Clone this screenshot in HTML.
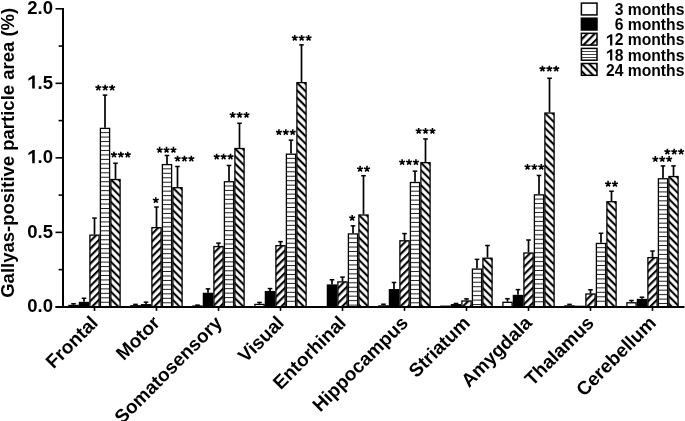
<!DOCTYPE html>
<html><head><meta charset="utf-8"><style>
html,body{margin:0;padding:0;background:#fff;}
svg{display:block;will-change:transform;}
text{font-family:"Liberation Sans",sans-serif;font-weight:bold;fill:#000;}
</style></head><body>
<svg width="685" height="421" viewBox="0 0 685 421">
<defs>
<pattern id="h12" patternUnits="userSpaceOnUse" width="5.29" height="5.29" patternTransform="rotate(45)">
<rect x="0" y="0" width="1.26" height="5.29" fill="#000"/><rect x="4.45" y="0" width="0.84" height="5.29" fill="#000"/></pattern>
<pattern id="h24" patternUnits="userSpaceOnUse" width="5.29" height="5.29" patternTransform="rotate(-45)">
<rect x="0" y="0" width="1.05" height="5.29" fill="#000"/><rect x="4.24" y="0" width="1.05" height="5.29" fill="#000"/></pattern>
</defs>
<rect width="685" height="421" fill="#fff"/>

<line x1="73.50" y1="303.77" x2="73.50" y2="304.81" stroke="#000" stroke-width="1.7"/>
<line x1="71.20" y1="303.77" x2="75.80" y2="303.77" stroke="#000" stroke-width="1.5"/>
<rect x="68.90" y="305.46" width="9.20" height="1.44" fill="#fff" stroke="#000" stroke-width="1.3"/>
<line x1="84.00" y1="298.26" x2="84.00" y2="301.83" stroke="#000" stroke-width="1.7"/>
<line x1="81.70" y1="298.26" x2="86.30" y2="298.26" stroke="#000" stroke-width="1.5"/>
<rect x="79.40" y="302.48" width="9.20" height="4.42" fill="#000" stroke="#000" stroke-width="1.3"/>
<line x1="94.50" y1="218.07" x2="94.50" y2="234.46" stroke="#000" stroke-width="1.7"/>
<line x1="92.20" y1="218.07" x2="96.80" y2="218.07" stroke="#000" stroke-width="1.5"/>
<g transform="translate(89.25,234.46)"><rect x="0.65" y="0.65" width="9.20" height="71.79" fill="url(#h12)" stroke="#000" stroke-width="1.3"/></g>
<line x1="105.00" y1="95.10" x2="105.00" y2="127.74" stroke="#000" stroke-width="1.7"/>
<line x1="102.70" y1="95.10" x2="107.30" y2="95.10" stroke="#000" stroke-width="1.5"/>
<rect x="100.40" y="128.39" width="9.20" height="178.51" fill="#fff"/>
<line x1="100.40" y1="132.61" x2="109.60" y2="132.61" stroke="#222" stroke-width="1"/>
<line x1="100.40" y1="137.07" x2="109.60" y2="137.07" stroke="#222" stroke-width="1"/>
<line x1="100.40" y1="141.54" x2="109.60" y2="141.54" stroke="#222" stroke-width="1"/>
<line x1="100.40" y1="146.00" x2="109.60" y2="146.00" stroke="#222" stroke-width="1"/>
<line x1="100.40" y1="150.47" x2="109.60" y2="150.47" stroke="#222" stroke-width="1"/>
<line x1="100.40" y1="154.93" x2="109.60" y2="154.93" stroke="#222" stroke-width="1"/>
<line x1="100.40" y1="159.40" x2="109.60" y2="159.40" stroke="#222" stroke-width="1"/>
<line x1="100.40" y1="163.86" x2="109.60" y2="163.86" stroke="#222" stroke-width="1"/>
<line x1="100.40" y1="168.33" x2="109.60" y2="168.33" stroke="#222" stroke-width="1"/>
<line x1="100.40" y1="172.79" x2="109.60" y2="172.79" stroke="#222" stroke-width="1"/>
<line x1="100.40" y1="177.26" x2="109.60" y2="177.26" stroke="#222" stroke-width="1"/>
<line x1="100.40" y1="181.72" x2="109.60" y2="181.72" stroke="#222" stroke-width="1"/>
<line x1="100.40" y1="186.19" x2="109.60" y2="186.19" stroke="#222" stroke-width="1"/>
<line x1="100.40" y1="190.65" x2="109.60" y2="190.65" stroke="#222" stroke-width="1"/>
<line x1="100.40" y1="195.12" x2="109.60" y2="195.12" stroke="#222" stroke-width="1"/>
<line x1="100.40" y1="199.58" x2="109.60" y2="199.58" stroke="#222" stroke-width="1"/>
<line x1="100.40" y1="204.05" x2="109.60" y2="204.05" stroke="#222" stroke-width="1"/>
<line x1="100.40" y1="208.51" x2="109.60" y2="208.51" stroke="#222" stroke-width="1"/>
<line x1="100.40" y1="212.98" x2="109.60" y2="212.98" stroke="#222" stroke-width="1"/>
<line x1="100.40" y1="217.44" x2="109.60" y2="217.44" stroke="#222" stroke-width="1"/>
<line x1="100.40" y1="221.91" x2="109.60" y2="221.91" stroke="#222" stroke-width="1"/>
<line x1="100.40" y1="226.37" x2="109.60" y2="226.37" stroke="#222" stroke-width="1"/>
<line x1="100.40" y1="230.84" x2="109.60" y2="230.84" stroke="#222" stroke-width="1"/>
<line x1="100.40" y1="235.30" x2="109.60" y2="235.30" stroke="#222" stroke-width="1"/>
<line x1="100.40" y1="239.77" x2="109.60" y2="239.77" stroke="#222" stroke-width="1"/>
<line x1="100.40" y1="244.23" x2="109.60" y2="244.23" stroke="#222" stroke-width="1"/>
<line x1="100.40" y1="248.70" x2="109.60" y2="248.70" stroke="#222" stroke-width="1"/>
<line x1="100.40" y1="253.16" x2="109.60" y2="253.16" stroke="#222" stroke-width="1"/>
<line x1="100.40" y1="257.63" x2="109.60" y2="257.63" stroke="#222" stroke-width="1"/>
<line x1="100.40" y1="262.09" x2="109.60" y2="262.09" stroke="#222" stroke-width="1"/>
<line x1="100.40" y1="266.56" x2="109.60" y2="266.56" stroke="#222" stroke-width="1"/>
<line x1="100.40" y1="271.02" x2="109.60" y2="271.02" stroke="#222" stroke-width="1"/>
<line x1="100.40" y1="275.49" x2="109.60" y2="275.49" stroke="#222" stroke-width="1"/>
<line x1="100.40" y1="279.95" x2="109.60" y2="279.95" stroke="#222" stroke-width="1"/>
<line x1="100.40" y1="284.42" x2="109.60" y2="284.42" stroke="#222" stroke-width="1"/>
<line x1="100.40" y1="288.88" x2="109.60" y2="288.88" stroke="#222" stroke-width="1"/>
<line x1="100.40" y1="293.35" x2="109.60" y2="293.35" stroke="#222" stroke-width="1"/>
<line x1="100.40" y1="297.81" x2="109.60" y2="297.81" stroke="#222" stroke-width="1"/>
<line x1="100.40" y1="302.28" x2="109.60" y2="302.28" stroke="#222" stroke-width="1"/>
<rect x="100.40" y="128.39" width="9.20" height="178.51" fill="none" stroke="#000" stroke-width="1.3"/>
<line x1="115.50" y1="163.22" x2="115.50" y2="178.87" stroke="#000" stroke-width="1.7"/>
<line x1="113.20" y1="163.22" x2="117.80" y2="163.22" stroke="#000" stroke-width="1.5"/>
<g transform="translate(110.25,178.87)"><rect x="0.65" y="0.65" width="9.20" height="127.38" fill="url(#h24)" stroke="#000" stroke-width="1.3"/></g>
<line x1="94.50" y1="306.9" x2="94.50" y2="310.9" stroke="#000" stroke-width="1.6"/>
<text transform="translate(99.10,324) rotate(-45)" font-size="19" text-anchor="end">Frontal</text>
<line x1="135.50" y1="304.37" x2="135.50" y2="305.11" stroke="#000" stroke-width="1.7"/>
<line x1="133.20" y1="304.37" x2="137.80" y2="304.37" stroke="#000" stroke-width="1.5"/>
<rect x="130.90" y="305.76" width="9.20" height="1.14" fill="#fff" stroke="#000" stroke-width="1.3"/>
<line x1="146.00" y1="302.13" x2="146.00" y2="304.07" stroke="#000" stroke-width="1.7"/>
<line x1="143.70" y1="302.13" x2="148.30" y2="302.13" stroke="#000" stroke-width="1.5"/>
<rect x="141.40" y="304.72" width="9.20" height="2.18" fill="#000" stroke="#000" stroke-width="1.3"/>
<line x1="156.50" y1="207.04" x2="156.50" y2="227.01" stroke="#000" stroke-width="1.7"/>
<line x1="154.20" y1="207.04" x2="158.80" y2="207.04" stroke="#000" stroke-width="1.5"/>
<g transform="translate(151.25,227.01)"><rect x="0.65" y="0.65" width="9.20" height="79.24" fill="url(#h12)" stroke="#000" stroke-width="1.3"/></g>
<line x1="167.00" y1="155.47" x2="167.00" y2="163.96" stroke="#000" stroke-width="1.7"/>
<line x1="164.70" y1="155.47" x2="169.30" y2="155.47" stroke="#000" stroke-width="1.5"/>
<rect x="162.40" y="164.61" width="9.20" height="142.29" fill="#fff"/>
<line x1="162.40" y1="168.83" x2="171.60" y2="168.83" stroke="#222" stroke-width="1"/>
<line x1="162.40" y1="173.29" x2="171.60" y2="173.29" stroke="#222" stroke-width="1"/>
<line x1="162.40" y1="177.76" x2="171.60" y2="177.76" stroke="#222" stroke-width="1"/>
<line x1="162.40" y1="182.22" x2="171.60" y2="182.22" stroke="#222" stroke-width="1"/>
<line x1="162.40" y1="186.69" x2="171.60" y2="186.69" stroke="#222" stroke-width="1"/>
<line x1="162.40" y1="191.15" x2="171.60" y2="191.15" stroke="#222" stroke-width="1"/>
<line x1="162.40" y1="195.62" x2="171.60" y2="195.62" stroke="#222" stroke-width="1"/>
<line x1="162.40" y1="200.08" x2="171.60" y2="200.08" stroke="#222" stroke-width="1"/>
<line x1="162.40" y1="204.55" x2="171.60" y2="204.55" stroke="#222" stroke-width="1"/>
<line x1="162.40" y1="209.01" x2="171.60" y2="209.01" stroke="#222" stroke-width="1"/>
<line x1="162.40" y1="213.48" x2="171.60" y2="213.48" stroke="#222" stroke-width="1"/>
<line x1="162.40" y1="217.94" x2="171.60" y2="217.94" stroke="#222" stroke-width="1"/>
<line x1="162.40" y1="222.41" x2="171.60" y2="222.41" stroke="#222" stroke-width="1"/>
<line x1="162.40" y1="226.87" x2="171.60" y2="226.87" stroke="#222" stroke-width="1"/>
<line x1="162.40" y1="231.34" x2="171.60" y2="231.34" stroke="#222" stroke-width="1"/>
<line x1="162.40" y1="235.80" x2="171.60" y2="235.80" stroke="#222" stroke-width="1"/>
<line x1="162.40" y1="240.27" x2="171.60" y2="240.27" stroke="#222" stroke-width="1"/>
<line x1="162.40" y1="244.73" x2="171.60" y2="244.73" stroke="#222" stroke-width="1"/>
<line x1="162.40" y1="249.20" x2="171.60" y2="249.20" stroke="#222" stroke-width="1"/>
<line x1="162.40" y1="253.66" x2="171.60" y2="253.66" stroke="#222" stroke-width="1"/>
<line x1="162.40" y1="258.13" x2="171.60" y2="258.13" stroke="#222" stroke-width="1"/>
<line x1="162.40" y1="262.59" x2="171.60" y2="262.59" stroke="#222" stroke-width="1"/>
<line x1="162.40" y1="267.06" x2="171.60" y2="267.06" stroke="#222" stroke-width="1"/>
<line x1="162.40" y1="271.52" x2="171.60" y2="271.52" stroke="#222" stroke-width="1"/>
<line x1="162.40" y1="275.99" x2="171.60" y2="275.99" stroke="#222" stroke-width="1"/>
<line x1="162.40" y1="280.45" x2="171.60" y2="280.45" stroke="#222" stroke-width="1"/>
<line x1="162.40" y1="284.92" x2="171.60" y2="284.92" stroke="#222" stroke-width="1"/>
<line x1="162.40" y1="289.38" x2="171.60" y2="289.38" stroke="#222" stroke-width="1"/>
<line x1="162.40" y1="293.85" x2="171.60" y2="293.85" stroke="#222" stroke-width="1"/>
<line x1="162.40" y1="298.31" x2="171.60" y2="298.31" stroke="#222" stroke-width="1"/>
<line x1="162.40" y1="302.78" x2="171.60" y2="302.78" stroke="#222" stroke-width="1"/>
<rect x="162.40" y="164.61" width="9.20" height="142.29" fill="none" stroke="#000" stroke-width="1.3"/>
<line x1="177.50" y1="166.49" x2="177.50" y2="187.06" stroke="#000" stroke-width="1.7"/>
<line x1="175.20" y1="166.49" x2="179.80" y2="166.49" stroke="#000" stroke-width="1.5"/>
<g transform="translate(172.25,187.06)"><rect x="0.65" y="0.65" width="9.20" height="119.19" fill="url(#h24)" stroke="#000" stroke-width="1.3"/></g>
<line x1="156.50" y1="306.9" x2="156.50" y2="310.9" stroke="#000" stroke-width="1.6"/>
<text transform="translate(161.10,324) rotate(-45)" font-size="19" text-anchor="end">Motor</text>
<line x1="197.50" y1="305.11" x2="197.50" y2="305.41" stroke="#000" stroke-width="1.7"/>
<line x1="195.20" y1="305.11" x2="199.80" y2="305.11" stroke="#000" stroke-width="1.5"/>
<rect x="192.90" y="306.06" width="9.20" height="0.84" fill="#fff" stroke="#000" stroke-width="1.3"/>
<line x1="208.00" y1="288.86" x2="208.00" y2="292.74" stroke="#000" stroke-width="1.7"/>
<line x1="205.70" y1="288.86" x2="210.30" y2="288.86" stroke="#000" stroke-width="1.5"/>
<rect x="203.40" y="293.39" width="9.20" height="13.51" fill="#000" stroke="#000" stroke-width="1.3"/>
<line x1="218.50" y1="243.11" x2="218.50" y2="245.94" stroke="#000" stroke-width="1.7"/>
<line x1="216.20" y1="243.11" x2="220.80" y2="243.11" stroke="#000" stroke-width="1.5"/>
<g transform="translate(213.25,245.94)"><rect x="0.65" y="0.65" width="9.20" height="60.31" fill="url(#h12)" stroke="#000" stroke-width="1.3"/></g>
<line x1="229.00" y1="165.45" x2="229.00" y2="181.10" stroke="#000" stroke-width="1.7"/>
<line x1="226.70" y1="165.45" x2="231.30" y2="165.45" stroke="#000" stroke-width="1.5"/>
<rect x="224.40" y="181.75" width="9.20" height="125.15" fill="#fff"/>
<line x1="224.40" y1="185.97" x2="233.60" y2="185.97" stroke="#222" stroke-width="1"/>
<line x1="224.40" y1="190.43" x2="233.60" y2="190.43" stroke="#222" stroke-width="1"/>
<line x1="224.40" y1="194.90" x2="233.60" y2="194.90" stroke="#222" stroke-width="1"/>
<line x1="224.40" y1="199.36" x2="233.60" y2="199.36" stroke="#222" stroke-width="1"/>
<line x1="224.40" y1="203.83" x2="233.60" y2="203.83" stroke="#222" stroke-width="1"/>
<line x1="224.40" y1="208.29" x2="233.60" y2="208.29" stroke="#222" stroke-width="1"/>
<line x1="224.40" y1="212.76" x2="233.60" y2="212.76" stroke="#222" stroke-width="1"/>
<line x1="224.40" y1="217.22" x2="233.60" y2="217.22" stroke="#222" stroke-width="1"/>
<line x1="224.40" y1="221.69" x2="233.60" y2="221.69" stroke="#222" stroke-width="1"/>
<line x1="224.40" y1="226.15" x2="233.60" y2="226.15" stroke="#222" stroke-width="1"/>
<line x1="224.40" y1="230.62" x2="233.60" y2="230.62" stroke="#222" stroke-width="1"/>
<line x1="224.40" y1="235.08" x2="233.60" y2="235.08" stroke="#222" stroke-width="1"/>
<line x1="224.40" y1="239.55" x2="233.60" y2="239.55" stroke="#222" stroke-width="1"/>
<line x1="224.40" y1="244.01" x2="233.60" y2="244.01" stroke="#222" stroke-width="1"/>
<line x1="224.40" y1="248.48" x2="233.60" y2="248.48" stroke="#222" stroke-width="1"/>
<line x1="224.40" y1="252.94" x2="233.60" y2="252.94" stroke="#222" stroke-width="1"/>
<line x1="224.40" y1="257.41" x2="233.60" y2="257.41" stroke="#222" stroke-width="1"/>
<line x1="224.40" y1="261.87" x2="233.60" y2="261.87" stroke="#222" stroke-width="1"/>
<line x1="224.40" y1="266.34" x2="233.60" y2="266.34" stroke="#222" stroke-width="1"/>
<line x1="224.40" y1="270.80" x2="233.60" y2="270.80" stroke="#222" stroke-width="1"/>
<line x1="224.40" y1="275.27" x2="233.60" y2="275.27" stroke="#222" stroke-width="1"/>
<line x1="224.40" y1="279.73" x2="233.60" y2="279.73" stroke="#222" stroke-width="1"/>
<line x1="224.40" y1="284.20" x2="233.60" y2="284.20" stroke="#222" stroke-width="1"/>
<line x1="224.40" y1="288.66" x2="233.60" y2="288.66" stroke="#222" stroke-width="1"/>
<line x1="224.40" y1="293.13" x2="233.60" y2="293.13" stroke="#222" stroke-width="1"/>
<line x1="224.40" y1="297.59" x2="233.60" y2="297.59" stroke="#222" stroke-width="1"/>
<line x1="224.40" y1="302.06" x2="233.60" y2="302.06" stroke="#222" stroke-width="1"/>
<rect x="224.40" y="181.75" width="9.20" height="125.15" fill="none" stroke="#000" stroke-width="1.3"/>
<line x1="239.50" y1="123.27" x2="239.50" y2="147.86" stroke="#000" stroke-width="1.7"/>
<line x1="237.20" y1="123.27" x2="241.80" y2="123.27" stroke="#000" stroke-width="1.5"/>
<g transform="translate(234.25,147.86)"><rect x="0.65" y="0.65" width="9.20" height="158.39" fill="url(#h24)" stroke="#000" stroke-width="1.3"/></g>
<line x1="218.50" y1="306.9" x2="218.50" y2="310.9" stroke="#000" stroke-width="1.6"/>
<text transform="translate(223.10,324) rotate(-45)" font-size="19" text-anchor="end">Somatosensory</text>
<line x1="259.50" y1="302.43" x2="259.50" y2="303.77" stroke="#000" stroke-width="1.7"/>
<line x1="257.20" y1="302.43" x2="261.80" y2="302.43" stroke="#000" stroke-width="1.5"/>
<rect x="254.90" y="304.42" width="9.20" height="2.48" fill="#fff" stroke="#000" stroke-width="1.3"/>
<line x1="270.00" y1="288.57" x2="270.00" y2="290.95" stroke="#000" stroke-width="1.7"/>
<line x1="267.70" y1="288.57" x2="272.30" y2="288.57" stroke="#000" stroke-width="1.5"/>
<rect x="265.40" y="291.60" width="9.20" height="15.30" fill="#000" stroke="#000" stroke-width="1.3"/>
<line x1="280.50" y1="241.62" x2="280.50" y2="245.04" stroke="#000" stroke-width="1.7"/>
<line x1="278.20" y1="241.62" x2="282.80" y2="241.62" stroke="#000" stroke-width="1.5"/>
<g transform="translate(275.25,245.04)"><rect x="0.65" y="0.65" width="9.20" height="61.21" fill="url(#h12)" stroke="#000" stroke-width="1.3"/></g>
<line x1="291.00" y1="140.11" x2="291.00" y2="153.53" stroke="#000" stroke-width="1.7"/>
<line x1="288.70" y1="140.11" x2="293.30" y2="140.11" stroke="#000" stroke-width="1.5"/>
<rect x="286.40" y="154.18" width="9.20" height="152.72" fill="#fff"/>
<line x1="286.40" y1="158.39" x2="295.60" y2="158.39" stroke="#222" stroke-width="1"/>
<line x1="286.40" y1="162.86" x2="295.60" y2="162.86" stroke="#222" stroke-width="1"/>
<line x1="286.40" y1="167.32" x2="295.60" y2="167.32" stroke="#222" stroke-width="1"/>
<line x1="286.40" y1="171.79" x2="295.60" y2="171.79" stroke="#222" stroke-width="1"/>
<line x1="286.40" y1="176.25" x2="295.60" y2="176.25" stroke="#222" stroke-width="1"/>
<line x1="286.40" y1="180.72" x2="295.60" y2="180.72" stroke="#222" stroke-width="1"/>
<line x1="286.40" y1="185.18" x2="295.60" y2="185.18" stroke="#222" stroke-width="1"/>
<line x1="286.40" y1="189.65" x2="295.60" y2="189.65" stroke="#222" stroke-width="1"/>
<line x1="286.40" y1="194.11" x2="295.60" y2="194.11" stroke="#222" stroke-width="1"/>
<line x1="286.40" y1="198.58" x2="295.60" y2="198.58" stroke="#222" stroke-width="1"/>
<line x1="286.40" y1="203.04" x2="295.60" y2="203.04" stroke="#222" stroke-width="1"/>
<line x1="286.40" y1="207.51" x2="295.60" y2="207.51" stroke="#222" stroke-width="1"/>
<line x1="286.40" y1="211.97" x2="295.60" y2="211.97" stroke="#222" stroke-width="1"/>
<line x1="286.40" y1="216.44" x2="295.60" y2="216.44" stroke="#222" stroke-width="1"/>
<line x1="286.40" y1="220.90" x2="295.60" y2="220.90" stroke="#222" stroke-width="1"/>
<line x1="286.40" y1="225.37" x2="295.60" y2="225.37" stroke="#222" stroke-width="1"/>
<line x1="286.40" y1="229.83" x2="295.60" y2="229.83" stroke="#222" stroke-width="1"/>
<line x1="286.40" y1="234.30" x2="295.60" y2="234.30" stroke="#222" stroke-width="1"/>
<line x1="286.40" y1="238.76" x2="295.60" y2="238.76" stroke="#222" stroke-width="1"/>
<line x1="286.40" y1="243.23" x2="295.60" y2="243.23" stroke="#222" stroke-width="1"/>
<line x1="286.40" y1="247.69" x2="295.60" y2="247.69" stroke="#222" stroke-width="1"/>
<line x1="286.40" y1="252.16" x2="295.60" y2="252.16" stroke="#222" stroke-width="1"/>
<line x1="286.40" y1="256.62" x2="295.60" y2="256.62" stroke="#222" stroke-width="1"/>
<line x1="286.40" y1="261.09" x2="295.60" y2="261.09" stroke="#222" stroke-width="1"/>
<line x1="286.40" y1="265.55" x2="295.60" y2="265.55" stroke="#222" stroke-width="1"/>
<line x1="286.40" y1="270.02" x2="295.60" y2="270.02" stroke="#222" stroke-width="1"/>
<line x1="286.40" y1="274.48" x2="295.60" y2="274.48" stroke="#222" stroke-width="1"/>
<line x1="286.40" y1="278.95" x2="295.60" y2="278.95" stroke="#222" stroke-width="1"/>
<line x1="286.40" y1="283.41" x2="295.60" y2="283.41" stroke="#222" stroke-width="1"/>
<line x1="286.40" y1="287.88" x2="295.60" y2="287.88" stroke="#222" stroke-width="1"/>
<line x1="286.40" y1="292.34" x2="295.60" y2="292.34" stroke="#222" stroke-width="1"/>
<line x1="286.40" y1="296.81" x2="295.60" y2="296.81" stroke="#222" stroke-width="1"/>
<line x1="286.40" y1="301.27" x2="295.60" y2="301.27" stroke="#222" stroke-width="1"/>
<rect x="286.40" y="154.18" width="9.20" height="152.72" fill="none" stroke="#000" stroke-width="1.3"/>
<line x1="301.50" y1="44.87" x2="301.50" y2="81.98" stroke="#000" stroke-width="1.7"/>
<line x1="299.20" y1="44.87" x2="303.80" y2="44.87" stroke="#000" stroke-width="1.5"/>
<g transform="translate(296.25,81.98)"><rect x="0.65" y="0.65" width="9.20" height="224.27" fill="url(#h24)" stroke="#000" stroke-width="1.3"/></g>
<line x1="280.50" y1="306.9" x2="280.50" y2="310.9" stroke="#000" stroke-width="1.6"/>
<text transform="translate(285.10,324) rotate(-45)" font-size="19" text-anchor="end">Visual</text>
<rect x="316.90" y="306.80" width="9.20" height="0.10" fill="#fff" stroke="#000" stroke-width="1.3"/>
<line x1="332.00" y1="279.77" x2="332.00" y2="284.39" stroke="#000" stroke-width="1.7"/>
<line x1="329.70" y1="279.77" x2="334.30" y2="279.77" stroke="#000" stroke-width="1.5"/>
<rect x="327.40" y="285.04" width="9.20" height="21.86" fill="#000" stroke="#000" stroke-width="1.3"/>
<line x1="342.50" y1="277.09" x2="342.50" y2="281.26" stroke="#000" stroke-width="1.7"/>
<line x1="340.20" y1="277.09" x2="344.80" y2="277.09" stroke="#000" stroke-width="1.5"/>
<g transform="translate(337.25,281.26)"><rect x="0.65" y="0.65" width="9.20" height="24.99" fill="url(#h12)" stroke="#000" stroke-width="1.3"/></g>
<line x1="353.00" y1="225.82" x2="353.00" y2="233.27" stroke="#000" stroke-width="1.7"/>
<line x1="350.70" y1="225.82" x2="355.30" y2="225.82" stroke="#000" stroke-width="1.5"/>
<rect x="348.40" y="233.92" width="9.20" height="72.98" fill="#fff"/>
<line x1="348.40" y1="238.13" x2="357.60" y2="238.13" stroke="#222" stroke-width="1"/>
<line x1="348.40" y1="242.60" x2="357.60" y2="242.60" stroke="#222" stroke-width="1"/>
<line x1="348.40" y1="247.06" x2="357.60" y2="247.06" stroke="#222" stroke-width="1"/>
<line x1="348.40" y1="251.53" x2="357.60" y2="251.53" stroke="#222" stroke-width="1"/>
<line x1="348.40" y1="255.99" x2="357.60" y2="255.99" stroke="#222" stroke-width="1"/>
<line x1="348.40" y1="260.46" x2="357.60" y2="260.46" stroke="#222" stroke-width="1"/>
<line x1="348.40" y1="264.92" x2="357.60" y2="264.92" stroke="#222" stroke-width="1"/>
<line x1="348.40" y1="269.39" x2="357.60" y2="269.39" stroke="#222" stroke-width="1"/>
<line x1="348.40" y1="273.85" x2="357.60" y2="273.85" stroke="#222" stroke-width="1"/>
<line x1="348.40" y1="278.32" x2="357.60" y2="278.32" stroke="#222" stroke-width="1"/>
<line x1="348.40" y1="282.78" x2="357.60" y2="282.78" stroke="#222" stroke-width="1"/>
<line x1="348.40" y1="287.25" x2="357.60" y2="287.25" stroke="#222" stroke-width="1"/>
<line x1="348.40" y1="291.71" x2="357.60" y2="291.71" stroke="#222" stroke-width="1"/>
<line x1="348.40" y1="296.18" x2="357.60" y2="296.18" stroke="#222" stroke-width="1"/>
<line x1="348.40" y1="300.64" x2="357.60" y2="300.64" stroke="#222" stroke-width="1"/>
<line x1="348.40" y1="305.11" x2="357.60" y2="305.11" stroke="#222" stroke-width="1"/>
<rect x="348.40" y="233.92" width="9.20" height="72.98" fill="none" stroke="#000" stroke-width="1.3"/>
<line x1="363.50" y1="175.74" x2="363.50" y2="214.34" stroke="#000" stroke-width="1.7"/>
<line x1="361.20" y1="175.74" x2="365.80" y2="175.74" stroke="#000" stroke-width="1.5"/>
<g transform="translate(358.25,214.34)"><rect x="0.65" y="0.65" width="9.20" height="91.91" fill="url(#h24)" stroke="#000" stroke-width="1.3"/></g>
<line x1="342.50" y1="306.9" x2="342.50" y2="310.9" stroke="#000" stroke-width="1.6"/>
<text transform="translate(347.10,324) rotate(-45)" font-size="19" text-anchor="end">Entorhinal</text>
<line x1="383.50" y1="304.22" x2="383.50" y2="305.26" stroke="#000" stroke-width="1.7"/>
<line x1="381.20" y1="304.22" x2="385.80" y2="304.22" stroke="#000" stroke-width="1.5"/>
<rect x="378.90" y="305.91" width="9.20" height="0.99" fill="#fff" stroke="#000" stroke-width="1.3"/>
<line x1="394.00" y1="282.46" x2="394.00" y2="289.01" stroke="#000" stroke-width="1.7"/>
<line x1="391.70" y1="282.46" x2="396.30" y2="282.46" stroke="#000" stroke-width="1.5"/>
<rect x="389.40" y="289.66" width="9.20" height="17.24" fill="#000" stroke="#000" stroke-width="1.3"/>
<line x1="404.50" y1="233.57" x2="404.50" y2="240.13" stroke="#000" stroke-width="1.7"/>
<line x1="402.20" y1="233.57" x2="406.80" y2="233.57" stroke="#000" stroke-width="1.5"/>
<g transform="translate(399.25,240.13)"><rect x="0.65" y="0.65" width="9.20" height="66.12" fill="url(#h12)" stroke="#000" stroke-width="1.3"/></g>
<line x1="415.00" y1="171.12" x2="415.00" y2="181.85" stroke="#000" stroke-width="1.7"/>
<line x1="412.70" y1="171.12" x2="417.30" y2="171.12" stroke="#000" stroke-width="1.5"/>
<rect x="410.40" y="182.50" width="9.20" height="124.40" fill="#fff"/>
<line x1="410.40" y1="186.71" x2="419.60" y2="186.71" stroke="#222" stroke-width="1"/>
<line x1="410.40" y1="191.18" x2="419.60" y2="191.18" stroke="#222" stroke-width="1"/>
<line x1="410.40" y1="195.64" x2="419.60" y2="195.64" stroke="#222" stroke-width="1"/>
<line x1="410.40" y1="200.11" x2="419.60" y2="200.11" stroke="#222" stroke-width="1"/>
<line x1="410.40" y1="204.57" x2="419.60" y2="204.57" stroke="#222" stroke-width="1"/>
<line x1="410.40" y1="209.04" x2="419.60" y2="209.04" stroke="#222" stroke-width="1"/>
<line x1="410.40" y1="213.50" x2="419.60" y2="213.50" stroke="#222" stroke-width="1"/>
<line x1="410.40" y1="217.97" x2="419.60" y2="217.97" stroke="#222" stroke-width="1"/>
<line x1="410.40" y1="222.43" x2="419.60" y2="222.43" stroke="#222" stroke-width="1"/>
<line x1="410.40" y1="226.90" x2="419.60" y2="226.90" stroke="#222" stroke-width="1"/>
<line x1="410.40" y1="231.36" x2="419.60" y2="231.36" stroke="#222" stroke-width="1"/>
<line x1="410.40" y1="235.83" x2="419.60" y2="235.83" stroke="#222" stroke-width="1"/>
<line x1="410.40" y1="240.29" x2="419.60" y2="240.29" stroke="#222" stroke-width="1"/>
<line x1="410.40" y1="244.76" x2="419.60" y2="244.76" stroke="#222" stroke-width="1"/>
<line x1="410.40" y1="249.22" x2="419.60" y2="249.22" stroke="#222" stroke-width="1"/>
<line x1="410.40" y1="253.69" x2="419.60" y2="253.69" stroke="#222" stroke-width="1"/>
<line x1="410.40" y1="258.15" x2="419.60" y2="258.15" stroke="#222" stroke-width="1"/>
<line x1="410.40" y1="262.62" x2="419.60" y2="262.62" stroke="#222" stroke-width="1"/>
<line x1="410.40" y1="267.08" x2="419.60" y2="267.08" stroke="#222" stroke-width="1"/>
<line x1="410.40" y1="271.55" x2="419.60" y2="271.55" stroke="#222" stroke-width="1"/>
<line x1="410.40" y1="276.01" x2="419.60" y2="276.01" stroke="#222" stroke-width="1"/>
<line x1="410.40" y1="280.48" x2="419.60" y2="280.48" stroke="#222" stroke-width="1"/>
<line x1="410.40" y1="284.94" x2="419.60" y2="284.94" stroke="#222" stroke-width="1"/>
<line x1="410.40" y1="289.41" x2="419.60" y2="289.41" stroke="#222" stroke-width="1"/>
<line x1="410.40" y1="293.87" x2="419.60" y2="293.87" stroke="#222" stroke-width="1"/>
<line x1="410.40" y1="298.34" x2="419.60" y2="298.34" stroke="#222" stroke-width="1"/>
<line x1="410.40" y1="302.80" x2="419.60" y2="302.80" stroke="#222" stroke-width="1"/>
<rect x="410.40" y="182.50" width="9.20" height="124.40" fill="none" stroke="#000" stroke-width="1.3"/>
<line x1="425.50" y1="138.92" x2="425.50" y2="162.02" stroke="#000" stroke-width="1.7"/>
<line x1="423.20" y1="138.92" x2="427.80" y2="138.92" stroke="#000" stroke-width="1.5"/>
<g transform="translate(420.25,162.02)"><rect x="0.65" y="0.65" width="9.20" height="144.23" fill="url(#h24)" stroke="#000" stroke-width="1.3"/></g>
<line x1="404.50" y1="306.9" x2="404.50" y2="310.9" stroke="#000" stroke-width="1.6"/>
<text transform="translate(409.10,324) rotate(-45)" font-size="19" text-anchor="end">Hippocampus</text>
<rect x="440.90" y="306.21" width="9.20" height="0.69" fill="#fff" stroke="#000" stroke-width="1.3"/>
<line x1="456.00" y1="303.47" x2="456.00" y2="304.07" stroke="#000" stroke-width="1.7"/>
<line x1="453.70" y1="303.47" x2="458.30" y2="303.47" stroke="#000" stroke-width="1.5"/>
<rect x="451.40" y="304.72" width="9.20" height="2.18" fill="#000" stroke="#000" stroke-width="1.3"/>
<line x1="466.50" y1="298.85" x2="466.50" y2="300.34" stroke="#000" stroke-width="1.7"/>
<line x1="464.20" y1="298.85" x2="468.80" y2="298.85" stroke="#000" stroke-width="1.5"/>
<g transform="translate(461.25,300.34)"><rect x="0.65" y="0.65" width="9.20" height="5.91" fill="url(#h12)" stroke="#000" stroke-width="1.3"/></g>
<line x1="477.00" y1="259.35" x2="477.00" y2="268.45" stroke="#000" stroke-width="1.7"/>
<line x1="474.70" y1="259.35" x2="479.30" y2="259.35" stroke="#000" stroke-width="1.5"/>
<rect x="472.40" y="269.10" width="9.20" height="37.80" fill="#fff"/>
<line x1="472.40" y1="273.31" x2="481.60" y2="273.31" stroke="#222" stroke-width="1"/>
<line x1="472.40" y1="277.78" x2="481.60" y2="277.78" stroke="#222" stroke-width="1"/>
<line x1="472.40" y1="282.24" x2="481.60" y2="282.24" stroke="#222" stroke-width="1"/>
<line x1="472.40" y1="286.71" x2="481.60" y2="286.71" stroke="#222" stroke-width="1"/>
<line x1="472.40" y1="291.17" x2="481.60" y2="291.17" stroke="#222" stroke-width="1"/>
<line x1="472.40" y1="295.64" x2="481.60" y2="295.64" stroke="#222" stroke-width="1"/>
<line x1="472.40" y1="300.10" x2="481.60" y2="300.10" stroke="#222" stroke-width="1"/>
<line x1="472.40" y1="304.57" x2="481.60" y2="304.57" stroke="#222" stroke-width="1"/>
<rect x="472.40" y="269.10" width="9.20" height="37.80" fill="none" stroke="#000" stroke-width="1.3"/>
<line x1="487.50" y1="245.49" x2="487.50" y2="257.56" stroke="#000" stroke-width="1.7"/>
<line x1="485.20" y1="245.49" x2="489.80" y2="245.49" stroke="#000" stroke-width="1.5"/>
<g transform="translate(482.25,257.56)"><rect x="0.65" y="0.65" width="9.20" height="48.69" fill="url(#h24)" stroke="#000" stroke-width="1.3"/></g>
<line x1="466.50" y1="306.9" x2="466.50" y2="310.9" stroke="#000" stroke-width="1.6"/>
<text transform="translate(471.10,324) rotate(-45)" font-size="19" text-anchor="end">Striatum</text>
<line x1="507.50" y1="298.70" x2="507.50" y2="301.68" stroke="#000" stroke-width="1.7"/>
<line x1="505.20" y1="298.70" x2="509.80" y2="298.70" stroke="#000" stroke-width="1.5"/>
<rect x="502.90" y="302.33" width="9.20" height="4.57" fill="#fff" stroke="#000" stroke-width="1.3"/>
<line x1="518.00" y1="289.61" x2="518.00" y2="294.83" stroke="#000" stroke-width="1.7"/>
<line x1="515.70" y1="289.61" x2="520.30" y2="289.61" stroke="#000" stroke-width="1.5"/>
<rect x="513.40" y="295.48" width="9.20" height="11.42" fill="#000" stroke="#000" stroke-width="1.3"/>
<line x1="528.50" y1="239.98" x2="528.50" y2="252.35" stroke="#000" stroke-width="1.7"/>
<line x1="526.20" y1="239.98" x2="530.80" y2="239.98" stroke="#000" stroke-width="1.5"/>
<g transform="translate(523.25,252.35)"><rect x="0.65" y="0.65" width="9.20" height="53.90" fill="url(#h12)" stroke="#000" stroke-width="1.3"/></g>
<line x1="539.00" y1="175.44" x2="539.00" y2="194.22" stroke="#000" stroke-width="1.7"/>
<line x1="536.70" y1="175.44" x2="541.30" y2="175.44" stroke="#000" stroke-width="1.5"/>
<rect x="534.40" y="194.87" width="9.20" height="112.03" fill="#fff"/>
<line x1="534.40" y1="199.08" x2="543.60" y2="199.08" stroke="#222" stroke-width="1"/>
<line x1="534.40" y1="203.55" x2="543.60" y2="203.55" stroke="#222" stroke-width="1"/>
<line x1="534.40" y1="208.01" x2="543.60" y2="208.01" stroke="#222" stroke-width="1"/>
<line x1="534.40" y1="212.48" x2="543.60" y2="212.48" stroke="#222" stroke-width="1"/>
<line x1="534.40" y1="216.94" x2="543.60" y2="216.94" stroke="#222" stroke-width="1"/>
<line x1="534.40" y1="221.41" x2="543.60" y2="221.41" stroke="#222" stroke-width="1"/>
<line x1="534.40" y1="225.87" x2="543.60" y2="225.87" stroke="#222" stroke-width="1"/>
<line x1="534.40" y1="230.34" x2="543.60" y2="230.34" stroke="#222" stroke-width="1"/>
<line x1="534.40" y1="234.80" x2="543.60" y2="234.80" stroke="#222" stroke-width="1"/>
<line x1="534.40" y1="239.27" x2="543.60" y2="239.27" stroke="#222" stroke-width="1"/>
<line x1="534.40" y1="243.73" x2="543.60" y2="243.73" stroke="#222" stroke-width="1"/>
<line x1="534.40" y1="248.20" x2="543.60" y2="248.20" stroke="#222" stroke-width="1"/>
<line x1="534.40" y1="252.66" x2="543.60" y2="252.66" stroke="#222" stroke-width="1"/>
<line x1="534.40" y1="257.13" x2="543.60" y2="257.13" stroke="#222" stroke-width="1"/>
<line x1="534.40" y1="261.59" x2="543.60" y2="261.59" stroke="#222" stroke-width="1"/>
<line x1="534.40" y1="266.06" x2="543.60" y2="266.06" stroke="#222" stroke-width="1"/>
<line x1="534.40" y1="270.52" x2="543.60" y2="270.52" stroke="#222" stroke-width="1"/>
<line x1="534.40" y1="274.99" x2="543.60" y2="274.99" stroke="#222" stroke-width="1"/>
<line x1="534.40" y1="279.45" x2="543.60" y2="279.45" stroke="#222" stroke-width="1"/>
<line x1="534.40" y1="283.92" x2="543.60" y2="283.92" stroke="#222" stroke-width="1"/>
<line x1="534.40" y1="288.38" x2="543.60" y2="288.38" stroke="#222" stroke-width="1"/>
<line x1="534.40" y1="292.85" x2="543.60" y2="292.85" stroke="#222" stroke-width="1"/>
<line x1="534.40" y1="297.31" x2="543.60" y2="297.31" stroke="#222" stroke-width="1"/>
<line x1="534.40" y1="301.78" x2="543.60" y2="301.78" stroke="#222" stroke-width="1"/>
<rect x="534.40" y="194.87" width="9.20" height="112.03" fill="none" stroke="#000" stroke-width="1.3"/>
<line x1="549.50" y1="78.26" x2="549.50" y2="112.39" stroke="#000" stroke-width="1.7"/>
<line x1="547.20" y1="78.26" x2="551.80" y2="78.26" stroke="#000" stroke-width="1.5"/>
<g transform="translate(544.25,112.39)"><rect x="0.65" y="0.65" width="9.20" height="193.86" fill="url(#h24)" stroke="#000" stroke-width="1.3"/></g>
<line x1="528.50" y1="306.9" x2="528.50" y2="310.9" stroke="#000" stroke-width="1.6"/>
<text transform="translate(533.10,324) rotate(-45)" font-size="19" text-anchor="end">Amygdala</text>
<line x1="569.50" y1="304.37" x2="569.50" y2="305.26" stroke="#000" stroke-width="1.7"/>
<line x1="567.20" y1="304.37" x2="571.80" y2="304.37" stroke="#000" stroke-width="1.5"/>
<rect x="564.90" y="305.91" width="9.20" height="0.99" fill="#fff" stroke="#000" stroke-width="1.3"/>
<rect x="575.40" y="306.36" width="9.20" height="0.54" fill="#000" stroke="#000" stroke-width="1.3"/>
<line x1="590.50" y1="289.76" x2="590.50" y2="293.34" stroke="#000" stroke-width="1.7"/>
<line x1="588.20" y1="289.76" x2="592.80" y2="289.76" stroke="#000" stroke-width="1.5"/>
<g transform="translate(585.25,293.34)"><rect x="0.65" y="0.65" width="9.20" height="12.91" fill="url(#h12)" stroke="#000" stroke-width="1.3"/></g>
<line x1="601.00" y1="233.27" x2="601.00" y2="242.81" stroke="#000" stroke-width="1.7"/>
<line x1="598.70" y1="233.27" x2="603.30" y2="233.27" stroke="#000" stroke-width="1.5"/>
<rect x="596.40" y="243.46" width="9.20" height="63.44" fill="#fff"/>
<line x1="596.40" y1="247.67" x2="605.60" y2="247.67" stroke="#222" stroke-width="1"/>
<line x1="596.40" y1="252.14" x2="605.60" y2="252.14" stroke="#222" stroke-width="1"/>
<line x1="596.40" y1="256.60" x2="605.60" y2="256.60" stroke="#222" stroke-width="1"/>
<line x1="596.40" y1="261.07" x2="605.60" y2="261.07" stroke="#222" stroke-width="1"/>
<line x1="596.40" y1="265.53" x2="605.60" y2="265.53" stroke="#222" stroke-width="1"/>
<line x1="596.40" y1="270.00" x2="605.60" y2="270.00" stroke="#222" stroke-width="1"/>
<line x1="596.40" y1="274.46" x2="605.60" y2="274.46" stroke="#222" stroke-width="1"/>
<line x1="596.40" y1="278.93" x2="605.60" y2="278.93" stroke="#222" stroke-width="1"/>
<line x1="596.40" y1="283.39" x2="605.60" y2="283.39" stroke="#222" stroke-width="1"/>
<line x1="596.40" y1="287.86" x2="605.60" y2="287.86" stroke="#222" stroke-width="1"/>
<line x1="596.40" y1="292.32" x2="605.60" y2="292.32" stroke="#222" stroke-width="1"/>
<line x1="596.40" y1="296.79" x2="605.60" y2="296.79" stroke="#222" stroke-width="1"/>
<line x1="596.40" y1="301.25" x2="605.60" y2="301.25" stroke="#222" stroke-width="1"/>
<rect x="596.40" y="243.46" width="9.20" height="63.44" fill="none" stroke="#000" stroke-width="1.3"/>
<line x1="611.50" y1="191.24" x2="611.50" y2="201.07" stroke="#000" stroke-width="1.7"/>
<line x1="609.20" y1="191.24" x2="613.80" y2="191.24" stroke="#000" stroke-width="1.5"/>
<g transform="translate(606.25,201.07)"><rect x="0.65" y="0.65" width="9.20" height="105.18" fill="url(#h24)" stroke="#000" stroke-width="1.3"/></g>
<line x1="590.50" y1="306.9" x2="590.50" y2="310.9" stroke="#000" stroke-width="1.6"/>
<text transform="translate(595.10,324) rotate(-45)" font-size="19" text-anchor="end">Thalamus</text>
<line x1="631.50" y1="300.49" x2="631.50" y2="302.13" stroke="#000" stroke-width="1.7"/>
<line x1="629.20" y1="300.49" x2="633.80" y2="300.49" stroke="#000" stroke-width="1.5"/>
<rect x="626.90" y="302.78" width="9.20" height="4.12" fill="#fff" stroke="#000" stroke-width="1.3"/>
<line x1="642.00" y1="297.21" x2="642.00" y2="298.85" stroke="#000" stroke-width="1.7"/>
<line x1="639.70" y1="297.21" x2="644.30" y2="297.21" stroke="#000" stroke-width="1.5"/>
<rect x="637.40" y="299.50" width="9.20" height="7.40" fill="#000" stroke="#000" stroke-width="1.3"/>
<line x1="652.50" y1="251.01" x2="652.50" y2="256.97" stroke="#000" stroke-width="1.7"/>
<line x1="650.20" y1="251.01" x2="654.80" y2="251.01" stroke="#000" stroke-width="1.5"/>
<g transform="translate(647.25,256.97)"><rect x="0.65" y="0.65" width="9.20" height="49.28" fill="url(#h12)" stroke="#000" stroke-width="1.3"/></g>
<line x1="663.00" y1="165.90" x2="663.00" y2="178.12" stroke="#000" stroke-width="1.7"/>
<line x1="660.70" y1="165.90" x2="665.30" y2="165.90" stroke="#000" stroke-width="1.5"/>
<rect x="658.40" y="178.77" width="9.20" height="128.13" fill="#fff"/>
<line x1="658.40" y1="182.99" x2="667.60" y2="182.99" stroke="#222" stroke-width="1"/>
<line x1="658.40" y1="187.45" x2="667.60" y2="187.45" stroke="#222" stroke-width="1"/>
<line x1="658.40" y1="191.92" x2="667.60" y2="191.92" stroke="#222" stroke-width="1"/>
<line x1="658.40" y1="196.38" x2="667.60" y2="196.38" stroke="#222" stroke-width="1"/>
<line x1="658.40" y1="200.85" x2="667.60" y2="200.85" stroke="#222" stroke-width="1"/>
<line x1="658.40" y1="205.31" x2="667.60" y2="205.31" stroke="#222" stroke-width="1"/>
<line x1="658.40" y1="209.78" x2="667.60" y2="209.78" stroke="#222" stroke-width="1"/>
<line x1="658.40" y1="214.24" x2="667.60" y2="214.24" stroke="#222" stroke-width="1"/>
<line x1="658.40" y1="218.71" x2="667.60" y2="218.71" stroke="#222" stroke-width="1"/>
<line x1="658.40" y1="223.17" x2="667.60" y2="223.17" stroke="#222" stroke-width="1"/>
<line x1="658.40" y1="227.64" x2="667.60" y2="227.64" stroke="#222" stroke-width="1"/>
<line x1="658.40" y1="232.10" x2="667.60" y2="232.10" stroke="#222" stroke-width="1"/>
<line x1="658.40" y1="236.57" x2="667.60" y2="236.57" stroke="#222" stroke-width="1"/>
<line x1="658.40" y1="241.03" x2="667.60" y2="241.03" stroke="#222" stroke-width="1"/>
<line x1="658.40" y1="245.50" x2="667.60" y2="245.50" stroke="#222" stroke-width="1"/>
<line x1="658.40" y1="249.96" x2="667.60" y2="249.96" stroke="#222" stroke-width="1"/>
<line x1="658.40" y1="254.43" x2="667.60" y2="254.43" stroke="#222" stroke-width="1"/>
<line x1="658.40" y1="258.89" x2="667.60" y2="258.89" stroke="#222" stroke-width="1"/>
<line x1="658.40" y1="263.36" x2="667.60" y2="263.36" stroke="#222" stroke-width="1"/>
<line x1="658.40" y1="267.82" x2="667.60" y2="267.82" stroke="#222" stroke-width="1"/>
<line x1="658.40" y1="272.29" x2="667.60" y2="272.29" stroke="#222" stroke-width="1"/>
<line x1="658.40" y1="276.75" x2="667.60" y2="276.75" stroke="#222" stroke-width="1"/>
<line x1="658.40" y1="281.22" x2="667.60" y2="281.22" stroke="#222" stroke-width="1"/>
<line x1="658.40" y1="285.68" x2="667.60" y2="285.68" stroke="#222" stroke-width="1"/>
<line x1="658.40" y1="290.15" x2="667.60" y2="290.15" stroke="#222" stroke-width="1"/>
<line x1="658.40" y1="294.61" x2="667.60" y2="294.61" stroke="#222" stroke-width="1"/>
<line x1="658.40" y1="299.08" x2="667.60" y2="299.08" stroke="#222" stroke-width="1"/>
<line x1="658.40" y1="303.54" x2="667.60" y2="303.54" stroke="#222" stroke-width="1"/>
<rect x="658.40" y="178.77" width="9.20" height="128.13" fill="none" stroke="#000" stroke-width="1.3"/>
<line x1="673.50" y1="165.90" x2="673.50" y2="175.89" stroke="#000" stroke-width="1.7"/>
<line x1="671.20" y1="165.90" x2="675.80" y2="165.90" stroke="#000" stroke-width="1.5"/>
<g transform="translate(668.25,175.89)"><rect x="0.65" y="0.65" width="9.20" height="130.36" fill="url(#h24)" stroke="#000" stroke-width="1.3"/></g>
<line x1="652.50" y1="306.9" x2="652.50" y2="310.9" stroke="#000" stroke-width="1.6"/>
<text transform="translate(657.10,324) rotate(-45)" font-size="19" text-anchor="end">Cerebellum</text>
<path d="M98.35,87.73L98.35,84.63M98.35,87.73L101.30,86.77M98.35,87.73L100.17,90.24M98.35,87.73L96.53,90.24M98.35,87.73L95.40,86.77" stroke="#000" stroke-width="1.6" fill="none"/>
<path d="M105.25,87.73L105.25,84.63M105.25,87.73L108.20,86.77M105.25,87.73L107.07,90.24M105.25,87.73L103.43,90.24M105.25,87.73L102.30,86.77" stroke="#000" stroke-width="1.6" fill="none"/>
<path d="M112.15,87.73L112.15,84.63M112.15,87.73L115.10,86.77M112.15,87.73L113.97,90.24M112.15,87.73L110.33,90.24M112.15,87.73L109.20,86.77" stroke="#000" stroke-width="1.6" fill="none"/>
<path d="M113.95,154.83L113.95,151.73M113.95,154.83L116.90,153.87M113.95,154.83L115.77,157.34M113.95,154.83L112.13,157.34M113.95,154.83L111.00,153.87" stroke="#000" stroke-width="1.6" fill="none"/>
<path d="M120.85,154.83L120.85,151.73M120.85,154.83L123.80,153.87M120.85,154.83L122.67,157.34M120.85,154.83L119.03,157.34M120.85,154.83L117.90,153.87" stroke="#000" stroke-width="1.6" fill="none"/>
<path d="M127.75,154.83L127.75,151.73M127.75,154.83L130.70,153.87M127.75,154.83L129.57,157.34M127.75,154.83L125.93,157.34M127.75,154.83L124.80,153.87" stroke="#000" stroke-width="1.6" fill="none"/>
<path d="M155.80,200.23L155.80,197.13M155.80,200.23L158.75,199.27M155.80,200.23L157.62,202.74M155.80,200.23L153.98,202.74M155.80,200.23L152.85,199.27" stroke="#000" stroke-width="1.6" fill="none"/>
<path d="M159.65,149.93L159.65,146.83M159.65,149.93L162.60,148.97M159.65,149.93L161.47,152.44M159.65,149.93L157.83,152.44M159.65,149.93L156.70,148.97" stroke="#000" stroke-width="1.6" fill="none"/>
<path d="M166.55,149.93L166.55,146.83M166.55,149.93L169.50,148.97M166.55,149.93L168.37,152.44M166.55,149.93L164.73,152.44M166.55,149.93L163.60,148.97" stroke="#000" stroke-width="1.6" fill="none"/>
<path d="M173.45,149.93L173.45,146.83M173.45,149.93L176.40,148.97M173.45,149.93L175.27,152.44M173.45,149.93L171.63,152.44M173.45,149.93L170.50,148.97" stroke="#000" stroke-width="1.6" fill="none"/>
<path d="M177.55,158.73L177.55,155.63M177.55,158.73L180.50,157.77M177.55,158.73L179.37,161.24M177.55,158.73L175.73,161.24M177.55,158.73L174.60,157.77" stroke="#000" stroke-width="1.6" fill="none"/>
<path d="M184.45,158.73L184.45,155.63M184.45,158.73L187.40,157.77M184.45,158.73L186.27,161.24M184.45,158.73L182.63,161.24M184.45,158.73L181.50,157.77" stroke="#000" stroke-width="1.6" fill="none"/>
<path d="M191.35,158.73L191.35,155.63M191.35,158.73L194.30,157.77M191.35,158.73L193.17,161.24M191.35,158.73L189.53,161.24M191.35,158.73L188.40,157.77" stroke="#000" stroke-width="1.6" fill="none"/>
<path d="M216.70,156.83L216.70,153.73M216.70,156.83L219.65,155.87M216.70,156.83L218.52,159.34M216.70,156.83L214.88,159.34M216.70,156.83L213.75,155.87" stroke="#000" stroke-width="1.6" fill="none"/>
<path d="M223.60,156.83L223.60,153.73M223.60,156.83L226.55,155.87M223.60,156.83L225.42,159.34M223.60,156.83L221.78,159.34M223.60,156.83L220.65,155.87" stroke="#000" stroke-width="1.6" fill="none"/>
<path d="M230.50,156.83L230.50,153.73M230.50,156.83L233.45,155.87M230.50,156.83L232.32,159.34M230.50,156.83L228.68,159.34M230.50,156.83L227.55,155.87" stroke="#000" stroke-width="1.6" fill="none"/>
<path d="M232.70,115.03L232.70,111.93M232.70,115.03L235.65,114.07M232.70,115.03L234.52,117.54M232.70,115.03L230.88,117.54M232.70,115.03L229.75,114.07" stroke="#000" stroke-width="1.6" fill="none"/>
<path d="M239.60,115.03L239.60,111.93M239.60,115.03L242.55,114.07M239.60,115.03L241.42,117.54M239.60,115.03L237.78,117.54M239.60,115.03L236.65,114.07" stroke="#000" stroke-width="1.6" fill="none"/>
<path d="M246.50,115.03L246.50,111.93M246.50,115.03L249.45,114.07M246.50,115.03L248.32,117.54M246.50,115.03L244.68,117.54M246.50,115.03L243.55,114.07" stroke="#000" stroke-width="1.6" fill="none"/>
<path d="M278.90,132.33L278.90,129.23M278.90,132.33L281.85,131.37M278.90,132.33L280.72,134.84M278.90,132.33L277.08,134.84M278.90,132.33L275.95,131.37" stroke="#000" stroke-width="1.6" fill="none"/>
<path d="M285.80,132.33L285.80,129.23M285.80,132.33L288.75,131.37M285.80,132.33L287.62,134.84M285.80,132.33L283.98,134.84M285.80,132.33L282.85,131.37" stroke="#000" stroke-width="1.6" fill="none"/>
<path d="M292.70,132.33L292.70,129.23M292.70,132.33L295.65,131.37M292.70,132.33L294.52,134.84M292.70,132.33L290.88,134.84M292.70,132.33L289.75,131.37" stroke="#000" stroke-width="1.6" fill="none"/>
<path d="M294.75,38.03L294.75,34.93M294.75,38.03L297.70,37.07M294.75,38.03L296.57,40.54M294.75,38.03L292.93,40.54M294.75,38.03L291.80,37.07" stroke="#000" stroke-width="1.6" fill="none"/>
<path d="M301.65,38.03L301.65,34.93M301.65,38.03L304.60,37.07M301.65,38.03L303.47,40.54M301.65,38.03L299.83,40.54M301.65,38.03L298.70,37.07" stroke="#000" stroke-width="1.6" fill="none"/>
<path d="M308.55,38.03L308.55,34.93M308.55,38.03L311.50,37.07M308.55,38.03L310.37,40.54M308.55,38.03L306.73,40.54M308.55,38.03L305.60,37.07" stroke="#000" stroke-width="1.6" fill="none"/>
<path d="M352.15,218.03L352.15,214.93M352.15,218.03L355.10,217.07M352.15,218.03L353.97,220.54M352.15,218.03L350.33,220.54M352.15,218.03L349.20,217.07" stroke="#000" stroke-width="1.6" fill="none"/>
<path d="M360.10,168.93L360.10,165.83M360.10,168.93L363.05,167.97M360.10,168.93L361.92,171.44M360.10,168.93L358.28,171.44M360.10,168.93L357.15,167.97" stroke="#000" stroke-width="1.6" fill="none"/>
<path d="M367.00,168.93L367.00,165.83M367.00,168.93L369.95,167.97M367.00,168.93L368.82,171.44M367.00,168.93L365.18,171.44M367.00,168.93L364.05,167.97" stroke="#000" stroke-width="1.6" fill="none"/>
<path d="M402.15,162.23L402.15,159.13M402.15,162.23L405.10,161.27M402.15,162.23L403.97,164.74M402.15,162.23L400.33,164.74M402.15,162.23L399.20,161.27" stroke="#000" stroke-width="1.6" fill="none"/>
<path d="M409.05,162.23L409.05,159.13M409.05,162.23L412.00,161.27M409.05,162.23L410.87,164.74M409.05,162.23L407.23,164.74M409.05,162.23L406.10,161.27" stroke="#000" stroke-width="1.6" fill="none"/>
<path d="M415.95,162.23L415.95,159.13M415.95,162.23L418.90,161.27M415.95,162.23L417.77,164.74M415.95,162.23L414.13,164.74M415.95,162.23L413.00,161.27" stroke="#000" stroke-width="1.6" fill="none"/>
<path d="M418.65,131.03L418.65,127.93M418.65,131.03L421.60,130.07M418.65,131.03L420.47,133.54M418.65,131.03L416.83,133.54M418.65,131.03L415.70,130.07" stroke="#000" stroke-width="1.6" fill="none"/>
<path d="M425.55,131.03L425.55,127.93M425.55,131.03L428.50,130.07M425.55,131.03L427.37,133.54M425.55,131.03L423.73,133.54M425.55,131.03L422.60,130.07" stroke="#000" stroke-width="1.6" fill="none"/>
<path d="M432.45,131.03L432.45,127.93M432.45,131.03L435.40,130.07M432.45,131.03L434.27,133.54M432.45,131.03L430.63,133.54M432.45,131.03L429.50,130.07" stroke="#000" stroke-width="1.6" fill="none"/>
<path d="M527.50,167.03L527.50,163.93M527.50,167.03L530.45,166.07M527.50,167.03L529.32,169.54M527.50,167.03L525.68,169.54M527.50,167.03L524.55,166.07" stroke="#000" stroke-width="1.6" fill="none"/>
<path d="M534.40,167.03L534.40,163.93M534.40,167.03L537.35,166.07M534.40,167.03L536.22,169.54M534.40,167.03L532.58,169.54M534.40,167.03L531.45,166.07" stroke="#000" stroke-width="1.6" fill="none"/>
<path d="M541.30,167.03L541.30,163.93M541.30,167.03L544.25,166.07M541.30,167.03L543.12,169.54M541.30,167.03L539.48,169.54M541.30,167.03L538.35,166.07" stroke="#000" stroke-width="1.6" fill="none"/>
<path d="M542.45,68.83L542.45,65.73M542.45,68.83L545.40,67.87M542.45,68.83L544.27,71.34M542.45,68.83L540.63,71.34M542.45,68.83L539.50,67.87" stroke="#000" stroke-width="1.6" fill="none"/>
<path d="M549.35,68.83L549.35,65.73M549.35,68.83L552.30,67.87M549.35,68.83L551.17,71.34M549.35,68.83L547.53,71.34M549.35,68.83L546.40,67.87" stroke="#000" stroke-width="1.6" fill="none"/>
<path d="M556.25,68.83L556.25,65.73M556.25,68.83L559.20,67.87M556.25,68.83L558.07,71.34M556.25,68.83L554.43,71.34M556.25,68.83L553.30,67.87" stroke="#000" stroke-width="1.6" fill="none"/>
<path d="M608.05,183.93L608.05,180.83M608.05,183.93L611.00,182.97M608.05,183.93L609.87,186.44M608.05,183.93L606.23,186.44M608.05,183.93L605.10,182.97" stroke="#000" stroke-width="1.6" fill="none"/>
<path d="M614.95,183.93L614.95,180.83M614.95,183.93L617.90,182.97M614.95,183.93L616.77,186.44M614.95,183.93L613.13,186.44M614.95,183.93L612.00,182.97" stroke="#000" stroke-width="1.6" fill="none"/>
<path d="M655.35,159.13L655.35,156.03M655.35,159.13L658.30,158.17M655.35,159.13L657.17,161.64M655.35,159.13L653.53,161.64M655.35,159.13L652.40,158.17" stroke="#000" stroke-width="1.6" fill="none"/>
<path d="M662.25,159.13L662.25,156.03M662.25,159.13L665.20,158.17M662.25,159.13L664.07,161.64M662.25,159.13L660.43,161.64M662.25,159.13L659.30,158.17" stroke="#000" stroke-width="1.6" fill="none"/>
<path d="M669.15,159.13L669.15,156.03M669.15,159.13L672.10,158.17M669.15,159.13L670.97,161.64M669.15,159.13L667.33,161.64M669.15,159.13L666.20,158.17" stroke="#000" stroke-width="1.6" fill="none"/>
<path d="M667.35,151.73L667.35,148.63M667.35,151.73L670.30,150.77M667.35,151.73L669.17,154.24M667.35,151.73L665.53,154.24M667.35,151.73L664.40,150.77" stroke="#000" stroke-width="1.6" fill="none"/>
<path d="M674.25,151.73L674.25,148.63M674.25,151.73L677.20,150.77M674.25,151.73L676.07,154.24M674.25,151.73L672.43,154.24M674.25,151.73L671.30,150.77" stroke="#000" stroke-width="1.6" fill="none"/>
<path d="M681.15,151.73L681.15,148.63M681.15,151.73L684.10,150.77M681.15,151.73L682.97,154.24M681.15,151.73L679.33,154.24M681.15,151.73L678.20,150.77" stroke="#000" stroke-width="1.6" fill="none"/>
<line x1="63" y1="8" x2="63" y2="307.9" stroke="#000" stroke-width="2"/>
<line x1="55.5" y1="306.9" x2="684.5" y2="306.9" stroke="#000" stroke-width="2"/>
<line x1="55.5" y1="306.90" x2="63" y2="306.90" stroke="#000" stroke-width="1.6"/>
<text x="53" y="312.20" font-size="18.5" text-anchor="end">0.0</text>
<line x1="58.6" y1="269.64" x2="63" y2="269.64" stroke="#000" stroke-width="1.6"/>
<line x1="55.5" y1="232.37" x2="63" y2="232.37" stroke="#000" stroke-width="1.6"/>
<text x="53" y="237.67" font-size="18.5" text-anchor="end">0.5</text>
<line x1="58.6" y1="195.11" x2="63" y2="195.11" stroke="#000" stroke-width="1.6"/>
<line x1="55.5" y1="157.85" x2="63" y2="157.85" stroke="#000" stroke-width="1.6"/>
<text x="53" y="163.15" font-size="18.5" text-anchor="end">.0</text>
<path d="M34.77,163.15L34.77,149.90L32.83,149.90L28.39,153.07L28.39,155.29L32.18,153.07L32.18,163.15Z" fill="#000"/>
<line x1="58.6" y1="120.59" x2="63" y2="120.59" stroke="#000" stroke-width="1.6"/>
<line x1="55.5" y1="83.32" x2="63" y2="83.32" stroke="#000" stroke-width="1.6"/>
<text x="53" y="88.62" font-size="18.5" text-anchor="end">.5</text>
<path d="M34.77,88.62L34.77,75.38L32.83,75.38L28.39,78.54L28.39,80.76L32.18,78.54L32.18,88.62Z" fill="#000"/>
<line x1="58.6" y1="46.06" x2="63" y2="46.06" stroke="#000" stroke-width="1.6"/>
<line x1="55.5" y1="8.80" x2="63" y2="8.80" stroke="#000" stroke-width="1.6"/>
<text x="53" y="14.10" font-size="18.5" text-anchor="end">2.0</text>
<text transform="translate(13.6,152.8) rotate(-90)" font-size="18.5" text-anchor="middle">Gallyas-positive particle area (%)</text>
<g transform="translate(580.65,2.35)"><rect x="0.75" y="0.75" width="15.6" height="11.8" fill="#fff" stroke="#000" stroke-width="1.5"/></g>
<g transform="translate(684.4,15.20) scale(1.0,1)"><text x="0" y="0" font-size="15.7" text-anchor="end">3 months</text></g>
<g transform="translate(580.65,17.45)"><rect x="0.75" y="0.75" width="15.6" height="11.8" fill="#000" stroke="#000" stroke-width="1.5"/></g>
<g transform="translate(684.4,30.30) scale(1.0,1)"><text x="0" y="0" font-size="15.7" text-anchor="end">6 months</text></g>
<g transform="translate(580.65,32.55)"><rect x="0.75" y="0.75" width="15.6" height="11.8" fill="url(#h12)" stroke="#000" stroke-width="1.5"/></g>
<g transform="translate(684.4,45.40) scale(1.0,1)"><text x="0" y="0" font-size="15.7" text-anchor="end">2 months</text>
<path d="M-72.10,0.00L-72.10,-11.24L-73.75,-11.24L-77.52,-8.56L-77.52,-6.67L-74.30,-8.56L-74.30,0.00Z" fill="#000"/></g>
<rect x="581.40" y="48.40" width="15.6" height="11.8" fill="#fff"/>
<line x1="581.4" y1="51.50" x2="597" y2="51.50" stroke="#444" stroke-width="1"/>
<line x1="581.4" y1="54.50" x2="597" y2="54.50" stroke="#444" stroke-width="1"/>
<line x1="581.4" y1="57.50" x2="597" y2="57.50" stroke="#444" stroke-width="1"/>
<rect x="581.40" y="48.40" width="15.6" height="11.8" fill="none" stroke="#000" stroke-width="1.5"/>
<g transform="translate(684.4,60.50) scale(1.0,1)"><text x="0" y="0" font-size="15.7" text-anchor="end">8 months</text>
<path d="M-72.10,0.00L-72.10,-11.24L-73.75,-11.24L-77.52,-8.56L-77.52,-6.67L-74.30,-8.56L-74.30,0.00Z" fill="#000"/></g>
<g transform="translate(580.65,62.75)"><rect x="0.75" y="0.75" width="15.6" height="11.8" fill="url(#h24)" stroke="#000" stroke-width="1.5"/></g>
<g transform="translate(684.4,75.60) scale(1.0,1)"><text x="0" y="0" font-size="15.7" text-anchor="end">24 months</text></g>
</svg></body></html>
